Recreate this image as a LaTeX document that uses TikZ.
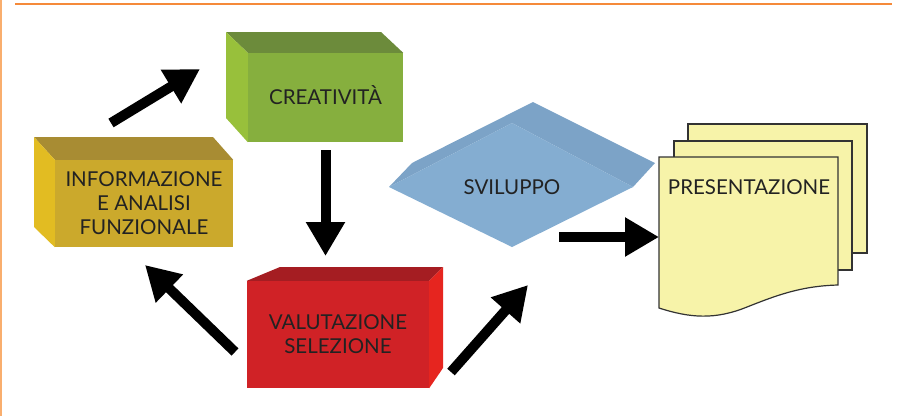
\documentclass[tikz,border=0pt]{standalone}
\usepackage{fontspec}
\setmainfont{Lato}
\usetikzlibrary{arrows.meta}
\definecolor{greenF}{HTML}{86AF3E}
\definecolor{greenT}{HTML}{6C8B3B}
\definecolor{greenS}{HTML}{98C03B}
\definecolor{yellF}{HTML}{CBA92C}
\definecolor{yellT}{HTML}{A88C33}
\definecolor{yellS}{HTML}{E2BC22}
\definecolor{redF}{HTML}{D02226}
\definecolor{redT}{HTML}{A51D22}
\definecolor{redS}{HTML}{E6251F}
\definecolor{blueF}{HTML}{84ADD1}
\definecolor{blueT}{HTML}{7CA3C7}
\definecolor{docF}{HTML}{F7F3A9}
\definecolor{docL}{HTML}{333333}
\definecolor{txt}{HTML}{222222}
\definecolor{orTop}{HTML}{F58A3A}
\definecolor{orLeft}{HTML}{F9AE6E}
\begin{document}
\begin{tikzpicture}[x=1pt,y=-1pt,
  face/.style={rectangle, inner sep=0pt, text=txt, align=center, font=\fontsize{20.5}{24}\selectfont},
  lbl/.style={text=txt, inner sep=0pt, font=\fontsize{20.5}{24}\selectfont},
  blockarrow/.style={line width=10pt, black, -{Triangle[length=34pt,width=37pt]}},
  doc/.style={fill=docF, draw=docL, line width=1.2pt, line join=miter}
]
\useasboundingbox (0,0) rectangle (905,416);
\fill[white] (0,0) rectangle (905,416);
% frame lines
\draw[orLeft, line width=2pt] (1,0) -- (1,416);
\draw[orTop, line width=2.5pt] (15,4) -- (892,4);

% CREATIVITA (green)
\node[face, fill=greenF, minimum width=155pt, minimum height=89pt] (crea) at (325.5,97.5) {\raisebox{4pt}{CREATIVITÀ}};
\fill[greenT] (crea.north west) -- (226,32) -- (381,32) -- (crea.north east) -- cycle;
\fill[greenS] (crea.north west) -- (226,32) -- (226,118) -- (crea.south west) -- cycle;

% INFORMAZIONE (yellow)
\node[face, fill=yellF, minimum width=178pt, minimum height=87pt] (info) at (144,203.5) {INFORMAZIONE\\E ANALISI\\FUNZIONALE};
\fill[yellT] (info.north west) -- (34,137) -- (213,137) -- (info.north east) -- cycle;
\fill[yellS] (info.north west) -- (34,137) -- (34,227) -- (info.south west) -- cycle;

% VALUTAZIONE (red)
\node[face, fill=redF, minimum width=182pt, minimum height=107pt] (valu) at (338,334.5) {VALUTAZIONE\\SELEZIONE};
\fill[redT] (valu.north west) -- (280,267) -- (443,267) -- (valu.north east) -- cycle;
\fill[redS] (valu.north east) -- (443,267) -- (443,368) -- (valu.south east) -- cycle;

% SVILUPPO (blue diamond)
\fill[blueT] (389,187) -- (412,163) -- (533,102) -- (655,163) -- (633,187) -- (512,123) -- cycle;
\fill[blueF] (389,187) -- (512,123) -- (633,187) -- (512,247) -- cycle;
\node[lbl] (svil) at (512,187) {SVILUPPO};

% PRESENTAZIONE (documents)
\draw[doc] (688,124) rectangle (867,253);
\draw[doc] (674,141) rectangle (852,270);
\draw[doc] (659,157) -- (838,157) -- (838,285)
  .. controls (800,286) and (775,296) .. (747,307)
  .. controls (715,320) and (690,318) .. (659,308) -- cycle;
\node[lbl] (pres) at (749,187) {PRESENTAZIONE};

% arrows
\coordinate (a1s) at (111,123); \coordinate (a1e) at (200,69);
\coordinate (a2s) at (325.5,150); \coordinate (a2e) at (325.5,256);
\coordinate (a3s) at (235,352); \coordinate (a3e) at (145,265);
\coordinate (a4s) at (451,372); \coordinate (a4e) at (528,285);
\coordinate (a5s) at (559,237); \coordinate (a5e) at (659,237);
\draw[blockarrow] (a1s) -- (a1e);
\draw[blockarrow] (a2s) -- (a2e);
\draw[blockarrow] (a3s) -- (a3e);
\draw[blockarrow] (a4s) -- (a4e);
\draw[blockarrow] (a5s) -- (a5e);
\end{tikzpicture}
\end{document}
